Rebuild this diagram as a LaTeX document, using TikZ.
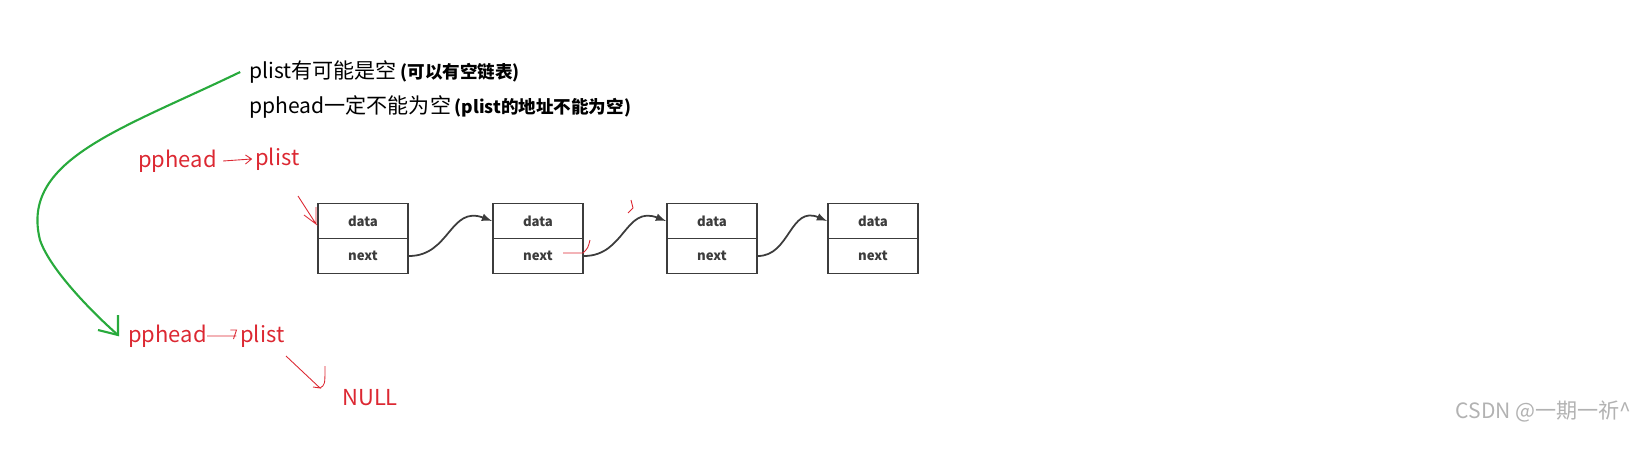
\documentclass[tikz,border=0pt]{standalone}
\usepackage{fontspec}
\setmainfont{Noto Sans CJK SC}
\newfontfamily\boldcjk[BoldFont={Noto Sans CJK SC Bold}]{Noto Sans CJK SC}
\usetikzlibrary{positioning}
\definecolor{penred}{RGB}{220,40,50}
\definecolor{pengreen}{RGB}{40,170,60}
\definecolor{boxgray}{RGB}{60,60,60}
\tikzset{
  cell/.style={draw=boxgray,line width=1.1pt,minimum width=1.8cm,minimum height=0.7cm,inner sep=0pt,font=\fontsize{7.5}{8}\selectfont\bfseries,text=boxgray},
  redtxt/.style={text=penred,font=\fontsize{12.5}{13}\selectfont,inner sep=0pt,anchor=west},
  note/.style={font=\fontsize{12}{13}\selectfont,inner sep=0pt,anchor=west},
  link/.style={boxgray,line width=1pt,-latex},
  pen/.style={penred,line width=0.5pt}
}
\begin{document}
\begin{tikzpicture}[x=0.02cm,y=-0.02cm]
\useasboundingbox (0,0) rectangle (1640,460);
% notes
\node[note] (n1) at (249,72) {plist有可能是空\,{\fontsize{10}{11}\selectfont\bfseries(可以有空链表)}};
\node[note] (n2) at (249,107) {pphead一定不能为空\,{\fontsize{10}{11}\selectfont\bfseries(plist的地址不能为空)}};
% list
\foreach \i/\x in {1/363,2/538,3/712,4/873}{
  \node[cell] (d\i) at (\x,221) {data};
  \node[cell] (x\i) at (\x,256) {next};
}
\draw[link] (x1.east) .. controls (450,256) and (450,205) .. (d2.west);
\draw[link] (x2.east) .. controls (625,256) and (625,205) .. (d3.west);
\draw[link] (x3.east) .. controls (790,256) and (790,205) .. (d4.west);
% red labels
\node[redtxt] (ph1) at (138,161) {pphead};
\node[redtxt] (pl1) at (255,159) {plist};
\node[redtxt] (ph2) at (128,336) {pphead};
\node[redtxt] (pl2) at (240,336) {plist};
\node[redtxt] (nul) at (342,398) {NULL};
\draw[pen] (ph1.east)+(6,0) -- ([xshift=-2]pl1.west) ++(-6,-4) -- ++(6,4) -- ++(-6,5);
\draw[pen] (ph2.east) -- ([xshift=-2]pl2.west) ++(-6,-6) -- ++(6,0) -- ++(-3,9);
\coordinate (a1) at (298,196);
\draw[pen] (a1) -- (316,224) -- (304,215) (316,224) -- (316,207);
\coordinate (a2) at (286,356);
\draw[pen] (a2) -- (320,388) -- (313,387) (320,388) .. controls (325,385) .. (325,366);
\draw[pen] (563,253) -- (583,253) .. controls (588,248) .. (590,240);
\draw[pen] (628,213) -- (633,208) -- (631,200);
% green arrow
\draw[pengreen,line width=1.2pt] ([xshift=-5]n1.west) .. controls (120,130) and (20,160) .. (40,240)
  .. controls (50,270) and (95,315) .. (118,335);
\draw[pengreen,line width=1.2pt] (98,330) -- (118,335) -- (118,315);
% watermark
\node[text=gray!60,font=\fontsize{12}{13}\selectfont,inner sep=0pt,anchor=east] (wm) at (1632,411) {CSDN @一期一祈\^{}};
\end{tikzpicture}
\end{document}
